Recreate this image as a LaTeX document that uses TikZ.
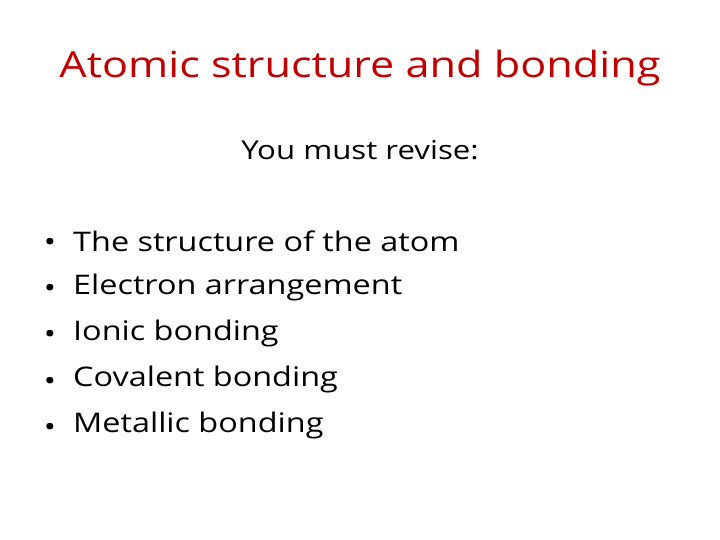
\documentclass[tikz,border=0pt]{standalone}
\usepackage{fontspec}
\setmainfont{Open Sans}[FakeStretch=1.2]
\definecolor{titlered}{HTML}{C00000}
\begin{document}
\begin{tikzpicture}[x=1pt,y=-1pt,
  item/.style={anchor=west,font=\fontsize{27}{31}\selectfont,inner sep=0pt},
  bul/.style={anchor=center,font=\fontsize{27}{31}\selectfont,inner sep=0pt}]
\useasboundingbox (0,0) rectangle (720,540);
\node[text=titlered,font=\fontsize{36}{42}\selectfont] (title) at (360,68) {Atomic structure and bonding};
\node[font=\fontsize{26}{30}\selectfont] (sub) at (360,150) {You must revise:};
\foreach \t [count=\i] in {The structure of the atom,Electron arrangement,Ionic bonding,Covalent bonding,Metallic bonding}{
  \node[bul] (b\i) at (50,{245+46.2*(\i-1)}) {•};
  \node[item] (t\i) at (73,{241+46.2*(\i-1)}) {\t};
}
\end{tikzpicture}
\end{document}
